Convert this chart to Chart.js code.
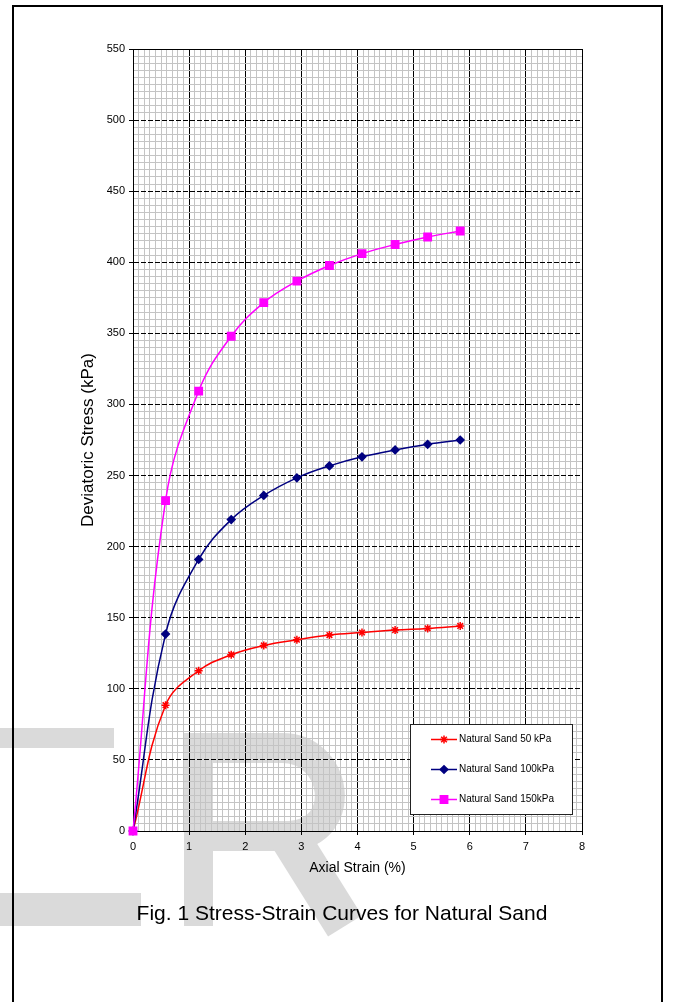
<!DOCTYPE html>
<html>
<head>
<meta charset="utf-8">
<title>Stress-Strain Curves for Natural Sand</title>
<script src="https://cdn.jsdelivr.net/npm/chart.js@4.4.1/dist/chart.umd.min.js"></script>
<style>
  body { margin: 0; background: #fff; font-family: "Liberation Sans", Arial, sans-serif; }
  #page { position: relative; width: 675px; height: 1002px; overflow: hidden; }
  #frame { position: absolute; left: 12px; top: 5px; width: 651px; height: 1100px; border: 2px solid #000; box-sizing: border-box; }
  #mark { position: absolute; left: 0; top: 0; }
  #stressChart { position: absolute; left: 0; top: 0; }
  #caption { position: absolute; left: 0; top: 901px; width: 684px; text-align: center; font-size: 21px; line-height: 24px; color: #000; }
</style>
</head>
<body>
<div id="page">
  <svg id="mark" width="675" height="1002">
    <g fill="#dadada">
      <rect x="0" y="728" width="114" height="20"/>
      <rect x="0" y="893" width="141" height="33"/>
      <rect x="184" y="733" width="29" height="193"/>
    </g>
    <path d="M198 748 H282 C338 748 350 832 290 836 H198" fill="none" stroke="#dadada" stroke-width="30"/>
    <path d="M285 830 L345 926" fill="none" stroke="#dadada" stroke-width="40"/>
  </svg>
  <div id="frame"></div>
  <canvas id="stressChart" width="675" height="1002"></canvas>
  <div id="caption">Fig. 1 Stress-Strain Curves for Natural Sand</div>
</div>

<script>
// axial strain (%) of each reading
const strain = [0, 0.58, 1.17, 1.75, 2.33, 2.92, 3.50, 4.08, 4.67, 5.25, 5.83];

// deviatoric stress (kPa) per confining pressure
const stress50 = [0, 88.5, 112.7, 124, 130.5, 134.5, 137.8, 139.6, 141.3, 142.5, 144.2];
const stress100 = [0, 138.5, 191, 219, 236, 248.4, 256.8, 263.2, 268, 272, 275];
const stress150 = [0, 232.4, 309.4, 348, 371.6, 386.7, 397.7, 406.1, 412.5, 417.8, 422];

const seriesLabels = ["Natural Sand 50 kPa", "Natural Sand 100kPa", "Natural Sand 150kPa"];
const seriesColors = ["#ff0000", "#000080", "#ff00ff"];

const xTickLabels = ["0", "1", "2", "3", "4", "5", "6", "7", "8"];
const yTickLabels = ["0", "50", "100", "150", "200", "250", "300", "350", "400", "450", "500", "550"];

const FONT = '"Liberation Sans", Arial, sans-serif';

const isMajorX = v => Math.abs(v - Math.round(v)) < 1e-6;
const isMajorY = v => Math.abs(v / 50 - Math.round(v / 50)) < 1e-6;

const makeSeries = (i, values, style, radius, order) => ({
    label: seriesLabels[i],
    data: strain.map((x, k) => ({ x: x, y: values[k] })),
    borderColor: seriesColors[i],
    backgroundColor: seriesColors[i],
    borderWidth: 1.5,
    tension: 0.4,
    pointStyle: style,
    pointRadius: radius,
    pointHoverRadius: radius,
    pointBorderWidth: 1.5,
    pointBackgroundColor: seriesColors[i],
    pointBorderColor: seriesColors[i],
    clip: 10,
    order: order
});

// boxed legend sitting in the lower right of the plot
const boxLegend = {
    id: "boxLegend",
    afterDatasetsDraw(chart) {
        const { ctx, chartArea } = chart;
        const x0 = chartArea.right - 172;
        const y0 = chartArea.bottom - 107;
        ctx.save();
        ctx.fillStyle = "#fff";
        ctx.fillRect(x0, y0, 162, 90);
        ctx.strokeStyle = "#222";
        ctx.lineWidth = 1;
        ctx.strokeRect(x0 + 0.5, y0 + 0.5, 162, 90);
        ctx.font = "10px " + FONT;
        ctx.textBaseline = "middle";
        chart.data.datasets.forEach((ds, i) => {
            const y = y0 + 15.5 + i * 30;
            ctx.strokeStyle = ds.borderColor;
            ctx.lineWidth = ds.borderWidth;
            ctx.beginPath();
            ctx.moveTo(x0 + 21, y);
            ctx.lineTo(x0 + 47, y);
            ctx.stroke();
            ctx.fillStyle = ds.pointBackgroundColor;
            ctx.lineWidth = ds.pointBorderWidth;
            Chart.helpers.drawPoint(ctx, {
                pointStyle: ds.pointStyle,
                radius: ds.pointRadius,
                borderWidth: ds.pointBorderWidth,
                rotation: 0
            }, x0 + 34, y);
            ctx.fillStyle = "#000";
            ctx.fillText(ds.label, x0 + 49, y);
        });
        ctx.restore();
    }
};

new Chart(document.getElementById("stressChart"), {
    type: "line",
    data: {
        datasets: [
            makeSeries(0, stress50, "star", 4, 3),
            makeSeries(1, stress100, "rectRot", 3.8, 2),
            makeSeries(2, stress150, "rect", 5.2, 1)
        ]
    },
    options: {
        responsive: false,
        animation: false,
        devicePixelRatio: 1,
        layout: {
            autoPadding: false,
            padding: { left: 77, right: 93, top: 49, bottom: 120 }
        },
        plugins: {
            legend: { display: false },
            tooltip: { enabled: false }
        },
        scales: {
            x: {
                type: "linear",
                min: 0,
                max: 8,
                afterFit: s => { s.height = 51; },
                ticks: {
                    stepSize: 0.1,
                    maxTicksLimit: 200,
                    autoSkip: false,
                    maxRotation: 0,
                    padding: 5,
                    color: "#000",
                    font: { family: FONT, size: 11 },
                    callback: v => isMajorX(v) ? xTickLabels[Math.round(v)] : ""
                },
                grid: {
                    lineWidth: 1,
                    tickLength: 4,
                    color: c => isMajorX(c.tick.value) ? "#000" : "#c4c4c4",
                    tickColor: c => isMajorX(c.tick.value) ? "#000" : "rgba(0,0,0,0)"
                },
                border: { color: "#000", width: 1 },
                title: {
                    display: true,
                    text: "Axial Strain (%)",
                    color: "#000",
                    font: { family: FONT, size: 14 },
                    padding: { top: 4, bottom: 5 }
                }
            },
            y: {
                type: "linear",
                min: 0,
                max: 550,
                afterFit: s => { s.width = 56; },
                ticks: {
                    stepSize: 5,
                    maxTicksLimit: 200,
                    autoSkip: false,
                    padding: 4,
                    color: "#000",
                    font: { family: FONT, size: 11 },
                    callback: v => isMajorY(v) ? yTickLabels[Math.round(v / 50)] : ""
                },
                grid: {
                    lineWidth: 1,
                    tickLength: 4,
                    color: c => isMajorY(c.tick.value) ? "#000" : "#c4c4c4",
                    tickColor: c => isMajorY(c.tick.value) ? "#000" : "rgba(0,0,0,0)"
                },
                border: {
                    color: "#000",
                    width: 1,
                    // major stress lines are dashed, plot edges stay solid
                    dash: c => (c.tick && isMajorY(c.tick.value) && c.tick.value > 0 && c.tick.value < 550) ? [5, 2] : []
                },
                title: {
                    display: true,
                    text: "Deviatoric Stress (kPa)",
                    color: "#000",
                    font: { family: FONT, size: 17 },
                    padding: { top: 1, bottom: 4 }
                }
            }
        }
    },
    plugins: [boxLegend]
});
</script>
</body>
</html>
